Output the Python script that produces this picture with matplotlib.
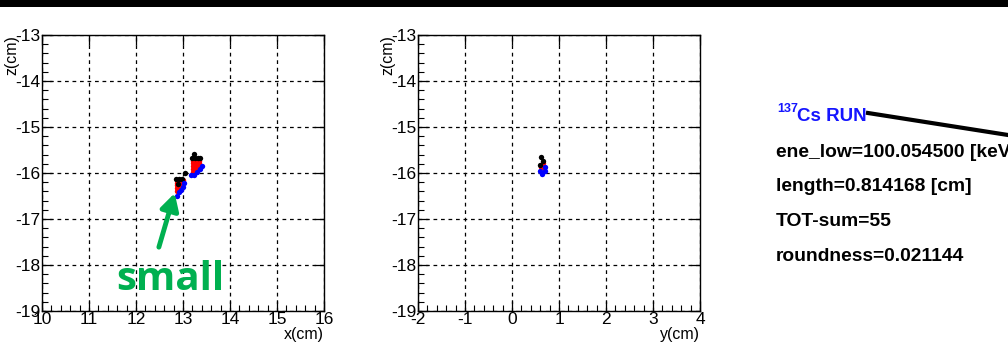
import matplotlib
matplotlib.use("Agg")
import matplotlib.pyplot as plt
from matplotlib.lines import Line2D
from matplotlib.patches import Rectangle
from matplotlib.ticker import MultipleLocator

plt.rcParams['font.family'] = ['Liberation Sans', 'DejaVu Sans']
plt.rcParams['axes.unicode_minus'] = False

# ---- data: x-z projection ----
xz_black_x = [13.23, 13.19, 13.25, 13.31, 13.37, 13.04, 12.86, 12.92, 12.98, 12.90]
xz_black_z = [-15.59, -15.68, -15.68, -15.68, -15.68, -16.00, -16.12, -16.12, -16.12, -16.24]
xz_red_x = [13.21, 13.27, 13.33, 13.21, 13.27, 13.33, 13.21, 13.27, 13.33, 13.21, 13.27, 13.21, 13.27,
            12.87, 12.93, 12.99, 12.87, 12.95, 12.87, 12.93, 12.87, 12.93, 12.87]
xz_red_z = [-15.73, -15.73, -15.73, -15.79, -15.79, -15.79, -15.85, -15.85, -15.85, -15.91, -15.91, -15.97, -15.97,
            -16.15, -16.15, -16.15, -16.21, -16.21, -16.27, -16.27, -16.33, -16.33, -16.39]
xz_blue_x = [13.40, 13.36, 13.30, 13.24, 13.18, 13.03, 13.00, 12.96, 12.92, 12.87]
xz_blue_z = [-15.84, -15.92, -15.98, -16.04, -16.04, -16.22, -16.30, -16.36, -16.42, -16.50]

# ---- data: y-z projection ----
yz_black_y = [0.62, 0.66, 0.59]
yz_black_z = [-15.66, -15.73, -15.83]
yz_red_y = [0.65, 0.62, 0.68]
yz_red_z = [-15.79, -15.87, -15.90]
yz_blue_y = [0.70, 0.59, 0.70, 0.64]
yz_blue_z = [-15.86, -15.95, -15.96, -16.02]

x_ticks = [10, 11, 12, 13, 14, 15, 16]
y_ticks = [-2, -1, 0, 1, 2, 3, 4]
z_ticks = [-19, -18, -17, -16, -15, -14, -13]

info_lines = ["ene_low=100.054500 [keV]", "length=0.814168 [cm]", "TOT-sum=55", "roundness=0.021144"]

W, H = 1008, 352
fig = plt.figure(figsize=(W / 100, H / 100), dpi=100)
fig.patch.set_facecolor('white')

# black band at top
fig.add_artist(Rectangle((0, 1 - 7 / H), 1, 7 / H, transform=fig.transFigure,
                         facecolor='black', edgecolor='none'))


def setup(ax, xt, xlabel):
    ax.set_xlim(xt[0], xt[-1])
    ax.set_ylim(-19, -13)
    ax.set_xticks(xt)
    ax.set_yticks(z_ticks)
    ax.xaxis.set_minor_locator(MultipleLocator(0.2))
    ax.yaxis.set_minor_locator(MultipleLocator(0.2))
    ax.grid(True, which='major', color='black', linestyle=(0, (3, 3)), linewidth=0.9)
    ax.tick_params(which='major', direction='in', length=7, width=0.9, top=True, right=True,
                   labelsize=12.5, pad=1)
    ax.tick_params(which='minor', direction='in', length=4, width=0.8, top=False, right=False)
    for s in ax.spines.values():
        s.set_linewidth(1.0)
    ax.set_xlabel(xlabel, fontsize=11.5, loc='right', labelpad=0)
    ax.set_ylabel('z(cm)', fontsize=11.5, loc='top', labelpad=-3)
    ax.set_axisbelow(True)


ax1 = fig.add_axes([42 / W, 1 - 311 / H, 282 / W, 276 / H])
setup(ax1, x_ticks, 'x(cm)')
ms = 15
ax1.scatter(xz_red_x, xz_red_z, s=ms, color='red', zorder=3, linewidths=0)
ax1.scatter(xz_black_x, xz_black_z, s=ms, color='black', zorder=4, linewidths=0)
ax1.scatter(xz_blue_x, xz_blue_z, s=ms, color='blue', zorder=4, linewidths=0)

green = '#00B050'
ax1.annotate('', xy=(12.84, -16.38), xytext=(12.47, -17.67),
             arrowprops=dict(arrowstyle='-|>,head_length=1.0,head_width=0.55', color=green, lw=3.5),
             zorder=5)
ax1.text(12.73, -18.55, 'small', color=green, fontsize=29, fontweight='bold',
         family=['Open Sans', 'DejaVu Sans'], ha='center', va='baseline', zorder=5)

ax2 = fig.add_axes([418 / W, 1 - 311 / H, 282 / W, 276 / H])
setup(ax2, y_ticks, 'y(cm)')
ax2.scatter(yz_red_y, yz_red_z, s=ms, color='red', zorder=3, linewidths=0)
ax2.scatter(yz_black_y, yz_black_z, s=ms, color='black', zorder=4, linewidths=0)
ax2.scatter(yz_blue_y, yz_blue_z, s=ms, color='blue', zorder=4, linewidths=0)

# text block
blue_txt = '#1515ff'
fig.text(777 / W, 1 - 112 / H, '137', color=blue_txt, fontsize=9, fontweight='bold', va='baseline')
fig.text(797 / W, 1 - 121 / H, 'Cs RUN', color=blue_txt, fontsize=13.5, fontweight='bold', va='baseline')
baselines = [157, 191, 226, 261]
for t, b in zip(info_lines, baselines):
    fig.text(776 / W, 1 - b / H, t, color='black', fontsize=13.9, fontweight='bold', va='baseline')

fig.add_artist(Line2D([868 / W, 1.0], [1 - 113 / H, 1 - 135 / H], transform=fig.transFigure,
                      color='black', linewidth=3))

fig.savefig('out.png', dpi=100)
